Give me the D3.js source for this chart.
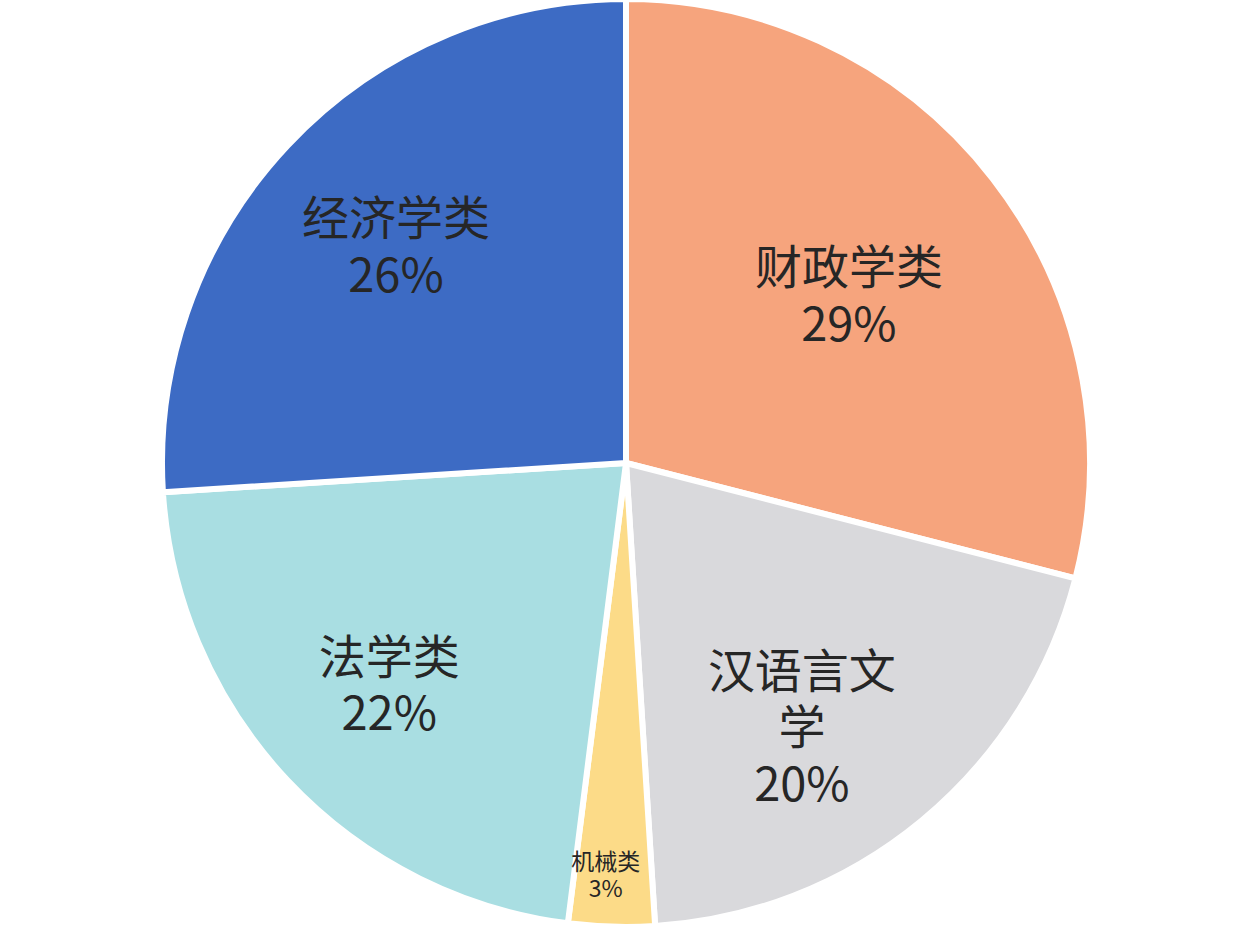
<!DOCTYPE html>
<html><head><meta charset="utf-8">
<script src="https://cdn.jsdelivr.net/npm/d3@7"></script>
<style>html,body{margin:0;padding:0;background:#fff;}svg{display:block;}</style>
</head><body>
<script>
const categories = ["财政学类", "汉语言文学", "机械类", "法学类", "经济学类"];
const labelLines = [["财政学类"], ["汉语言文", "学"], ["机械类"], ["法学类"], ["经济学类"]];
const values = [29, 20, 3, 22, 26];
const colors = ["#f6a47d", "#d9d9dc", "#fcdb88", "#a9dee2", "#3d6bc4"];
const labelRadius = [0.6, 0.685, 0.89, 0.7, 0.68];
const labelAngleShift = [1, 6, 1, 0, 0];

const W = 1254, H = 934;
const cx = 626, cy = 463, R = 464;
const svg = d3.select("body").append("svg").attr("width", W).attr("height", H);
const g = svg.append("g").attr("transform", `translate(${cx},${cy})`);

const pie = d3.pie().sort(null).value(d => d.v);
const data = values.map((v, i) => ({v, i}));
const arcs = pie(data);
const arc = d3.arc().innerRadius(0).outerRadius(R);

g.selectAll("path").data(arcs).join("path")
  .attr("d", arc)
  .attr("fill", d => colors[d.data.i])
  .attr("stroke", "#fff").attr("stroke-width", 6).attr("stroke-linejoin", "round");

arcs.forEach(d => {
  const i = d.data.i;
  const a = (d.startAngle + d.endAngle) / 2 + labelAngleShift[i] * Math.PI / 180;
  const r = R * labelRadius[i];
  const x = Math.sin(a) * r, y = -Math.cos(a) * r;
  const small = values[i] < 5;
  const fs = small ? 23 : 47;
  const lh = small ? 1.15 : 1.2;
  const lines = labelLines[i].concat([values[i] + "%"]);
  const t = g.append("text")
    .attr("text-anchor", "middle")
    .attr("font-family", "'Noto Sans CJK SC', 'Noto Sans', sans-serif")
    .attr("font-size", fs)
    .attr("fill", "#262626");
  const n = lines.length;
  lines.forEach((s, k) => {
    t.append("tspan").attr("x", x)
      .attr("y", y + (k - (n - 1) / 2) * fs * lh)
      .attr("dy", "0.35em")
      .text(s);
  });
});
</script>
</body></html>
